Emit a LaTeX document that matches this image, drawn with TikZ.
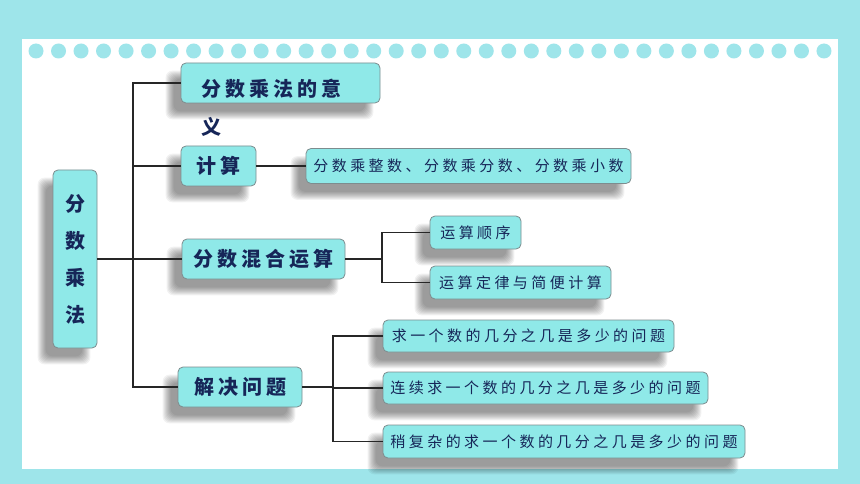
\documentclass[tikz,border=0pt]{standalone}
\usepackage{fontspec}
\newfontfamily\maincjk[LetterSpace=20]{Noto Sans CJK SC}
\newfontfamily\leafcjk[LetterSpace=23]{Noto Sans CJK SC}
\usetikzlibrary{backgrounds}
\definecolor{framecyan}{RGB}{158,229,234}
\definecolor{boxcyan}{RGB}{143,233,232}
\definecolor{boxgrey}{RGB}{125,140,142}
\definecolor{inknavy}{RGB}{22,38,88}

\begin{document}
\begin{tikzpicture}[x=1pt, y=-1pt,
    box/.style={rectangle, draw=boxgrey, line width=0.8pt, fill=boxcyan,
        rounded corners=5pt, inner sep=0pt, text=inknavy},
    mainbox/.style={box, minimum height=40pt,
        font=\maincjk\bfseries\fontsize{20}{37}\selectfont},
    leafbox/.style={box, minimum height=33pt,
        font=\leafcjk\fontsize{15}{18}\selectfont},
    maintext/.style={inner sep=0pt, text=inknavy,
        font=\maincjk\bfseries\fontsize{20}{38}\selectfont},
    link/.style={line width=1.2pt, black!85},
    shade layer/.style={fill=black, opacity=0.05, rounded corners=7pt}
]
    % root
    \node[mainbox, minimum width=44pt, minimum height=178pt, align=center]
        (root) at (75,259) {分\\数\\乘\\法};

    % first level
    \node[mainbox, minimum width=199pt] (yi) at (280.5,83) {};
    \node[maintext, anchor=west, align=left] (yitext) at (201,107.5) {分数乘法的意\\义};
    \node[mainbox, minimum width=75pt] (jisuan) at (218.5,166) {计算};
    \node[mainbox, minimum width=163pt] (hunhe) at (263.5,259) {分数混合运算};
    \node[mainbox, minimum width=124pt] (jiejue) at (240,387) {解决问题};

    % leaves
    \node[leafbox, minimum width=325pt, minimum height=35pt] (zhengshu) at (468.5,166)
        {分数乘整数、分数乘分数、分数乘小数};
    \node[leafbox, minimum width=91pt] (shunxu) at (475.5,232.5) {运算顺序};
    \node[leafbox, minimum width=181pt] (dinglv) at (520.5,282.5) {运算定律与简便计算};
    \node[leafbox, minimum width=291pt, minimum height=32pt] (wenti1) at (528.5,336)
        {求一个数的几分之几是多少的问题};
    \node[leafbox, minimum width=325pt, minimum height=32pt] (wenti2) at (545.5,388)
        {连续求一个数的几分之几是多少的问题};
    \node[leafbox, minimum width=362pt] (wenti3) at (564,441.5)
        {稍复杂的求一个数的几分之几是多少的问题};

    % connectors
    \coordinate (trunk) at (133,259);
    \coordinate (hjoint) at (382,259);
    \coordinate (jjoint) at (333,387);

    \draw[link] (root.east) -- (trunk);
    \draw[link] (trunk) |- (yi.west);
    \draw[link] (trunk) |- (jisuan.west);
    \draw[link] (trunk) -- (hunhe.west);
    \draw[link] (trunk) |- (jiejue.west);

    \draw[link] (jisuan.east) -- (zhengshu.west);

    \draw[link] (hunhe.east) -- (hjoint);
    \draw[link] (hjoint) |- (shunxu.west);
    \draw[link] (hjoint) |- (dinglv.west);

    \draw[link] (jiejue.east) -- (jjoint);
    \draw[link] (jjoint) |- (wenti1.west);
    \draw[link] (jjoint) |- (wenti2.west);
    \draw[link] (jjoint) |- (wenti3.west);

    % frame, dotted strip and soft shadows
    \begin{scope}[on background layer]
        \fill[framecyan] (0,0) rectangle (860,484);
        \fill[white] (22,39) rectangle (838,469);
        \foreach \i in {0,...,35}
            \fill[framecyan] (36+\i*22.514,51) circle[radius=7.5pt];
        \foreach \n in {root,yi,jisuan,hunhe,jiejue,zhengshu,shunxu,dinglv,wenti1,wenti2,wenti3}
            \foreach \o in {4,3,...,-4}
                \fill[shade layer] ([shift={(-11-\o,12-\o)}]\n.north west)
                    rectangle ([shift={(-11+\o,12+\o)}]\n.south east);
    \end{scope}
\end{tikzpicture}
\end{document}
